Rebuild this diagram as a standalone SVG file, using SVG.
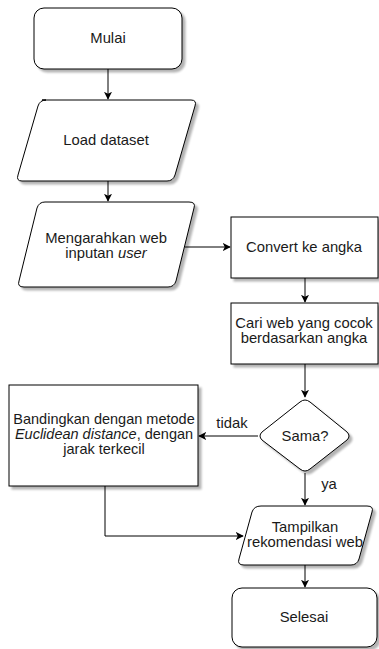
<svg xmlns="http://www.w3.org/2000/svg" width="379" height="649" viewBox="0 0 379 649">
<defs>
<filter id="sh" x="-10%" y="-10%" width="130%" height="130%">
<feGaussianBlur in="SourceAlpha" stdDeviation="1"/>
<feOffset dx="3" dy="3" result="b"/>
<feComponentTransfer><feFuncA type="linear" slope="0.3"/></feComponentTransfer>
<feMerge><feMergeNode/><feMergeNode in="SourceGraphic"/></feMerge>
</filter>
<marker id="arr" viewBox="0 0 10 10" refX="9" refY="5" markerWidth="8" markerHeight="8" orient="auto" markerUnits="userSpaceOnUse">
<path d="M0,0 L10,5 L0,10 L2.5,5 Z" fill="#000"/>
</marker>
</defs>
<style>
.n{fill:#fff;stroke:#000;stroke-width:1;filter:url(#sh)}
.t{font-family:"Liberation Sans",Arial,sans-serif;font-size:14.8px;fill:#1a1a1a;text-anchor:middle}
.c{fill:none;stroke:#000;stroke-width:1;marker-end:url(#arr)}
</style>
<rect width="379" height="649" fill="#fff"/>
<g id="connectors">
<path class="c" d="M108,69 L108,99"/>
<path class="c" d="M108,181 L108,201"/>
<path class="c" d="M185,247 L230,247"/>
<path class="c" d="M305,278 L305,302"/>
<path class="c" d="M305,364 L305,397"/>
<path class="c" d="M258,436 L199,436"/>
<path class="c" d="M305,473 L305,505"/>
<path class="c" d="M105,486 L105,536 L243,536"/>
<path class="c" d="M305,565 L305,587"/>
<text class="t" x="232" y="428">tidak</text>
<text class="t" x="329" y="489">ya</text>
</g>
<g id="mulai">
<rect class="n" x="34" y="8" width="148" height="61" rx="10"/>
<text class="t" x="108" y="43">Mulai</text>
</g>
<g id="load">
<path class="n" d="M42,100 L191,100 Q197,100 195,106 L175,175 Q173,181 167,181 L22,181 Q16,181 18,175 L38,106 Q40,100 46,100 Z"/>
<text class="t" x="106" y="145">Load dataset</text>
</g>
<g id="mengarahkan">
<path class="n" d="M45,202 L189,202 Q196,202 194,208 L176,281 Q174,287 168,287 L24,287 Q17,287 19,281 L37,208 Q39,202 45,202 Z"/>
<text class="t" x="106" y="243">Mengarahkan web</text>
<text class="t" x="106" y="258">inputan <tspan font-style="italic">user</tspan></text>
</g>
<g id="convert">
<rect class="n" x="231" y="217" width="147" height="61"/>
<text class="t" x="304" y="252">Convert ke angka</text>
</g>
<g id="cari">
<rect class="n" x="231" y="303" width="147" height="61"/>
<text class="t" x="304" y="328">Cari web yang cocok</text>
<text class="t" x="304" y="343">berdasarkan angka</text>
</g>
<g id="sama">
<path class="n" d="M300,402 Q305,398 310,402 L347,432 Q351,436 347,440 L310,469 Q305,473 300,469 L262,440 Q258,436 262,432 Z"/>
<text class="t" x="305" y="441">Sama?</text>
</g>
<g id="bandingkan">
<rect class="n" x="9" y="385" width="189" height="101"/>
<text class="t" x="104" y="424" style="font-size:14.5px">Bandingkan dengan metode</text>
<text class="t" x="104" y="439" style="font-size:14.5px"><tspan font-style="italic">Euclidean distance</tspan>, dengan</text>
<text class="t" x="104" y="454" style="font-size:14.5px">jarak terkecil</text>
</g>
<g id="tampilkan">
<path class="n" d="M261,506 L367,506 Q374,506 372,512 L359,559 Q357,565 351,565 L244,565 Q237,565 239,559 L252,512 Q254,506 261,506 Z"/>
<text class="t" x="305" y="532">Tampilkan</text>
<text class="t" x="305" y="547">rekomendasi web</text>
</g>
<g id="selesai">
<rect class="n" x="232" y="588" width="145" height="59" rx="10"/>
<text class="t" x="304" y="622">Selesai</text>
</g>
</svg>
